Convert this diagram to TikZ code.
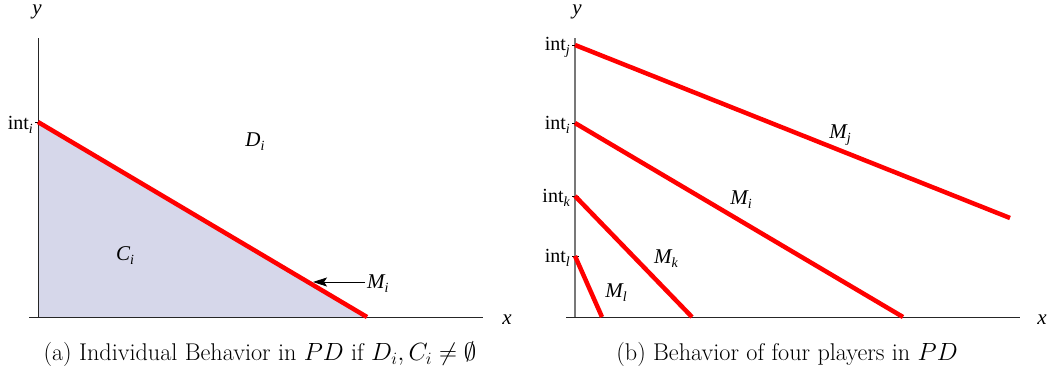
\documentclass[tikz,border=0pt]{standalone}
\usepackage{fontspec}
\usetikzlibrary{arrows.meta}
\newfontfamily\plotfont{Liberation Serif}
\definecolor{lav}{RGB}{214,215,234}
\definecolor{axgray}{RGB}{120,120,120}
\newcommand{\sbs}[1]{\raisebox{-4pt}{\fontsize{14}{16}\selectfont\itshape #1}}
\begin{document}
\begin{tikzpicture}[x=1pt,y=-1pt,
  redline/.style={draw=red,line width=4.5pt},
  lbl/.style={font=\plotfont\fontsize{21}{24}\selectfont,inner sep=0pt},
  intlbl/.style={font=\plotfont\fontsize{20}{24}\selectfont,inner sep=0pt,anchor=east},
  captext/.style={font=\fontsize{24.2}{29}\selectfont,inner sep=0pt}]
\useasboundingbox (0,0) rectangle (1056,373);
% ---------- left panel ----------
\coordinate (Li) at (38,122);
\coordinate (Lx) at (367,317);
\coordinate (Lo) at (38,317);
\fill[lav] (Li) -- (Lx) -- (Lo) -- cycle;
\draw[black!85,line width=0.9pt] (38,38) -- (38,318);
\draw[black!85,line width=0.9pt] (29,317) -- (483,317);
\draw[black,line width=0.8pt] (35,122) -- (41,122);
\draw[redline] (Li) -- (Lx);
\node[lbl] (ly) at (37,12) {\itshape y};
\node[lbl] (lx) at (507,320) {\itshape x};
\node[intlbl] (lint) at (33,125) {int\sbs{i}};
\node[lbl] (Dl) at (255,142) {\itshape D\sbs{i}};
\node[lbl] (Cl) at (125,256) {\itshape C\sbs{i}};
\coordinate (Mtip) at (313,282);
\coordinate (Mtail) at (365,282);
\node[lbl,anchor=west] (Ml) at (367,284) {\itshape M\sbs{i}};
\draw[-{Stealth[length=14pt,width=9pt,inset=3pt]},line width=0.8pt] (Mtail) -- (Mtip);
\node[captext] (capa) at (260,354) {(a) Individual Behavior in $PD$ if $D_i, C_i \neq \emptyset$};
% ---------- right panel ----------
\draw[axgray,line width=1.3pt] (575,38) -- (575,318);
\draw[black!85,line width=0.9pt] (566,317) -- (1020,317);
\foreach \yy in {45,123,196,256} \draw[black,line width=0.8pt] (572,\yy) -- (579,\yy);
\coordinate (Rj) at (575,45);
\coordinate (Ri) at (575,123);
\coordinate (Rk) at (575,196);
\coordinate (Rl) at (575,256);
\coordinate (Ej) at (1010,218);
\coordinate (Ei) at (903,317);
\coordinate (Ek) at (692,317);
\coordinate (El) at (602,317);
\draw[redline] (Rj) -- (Ej);
\draw[redline] (Ri) -- (Ei);
\draw[redline] (Rk) -- (Ek);
\draw[redline] (Rl) -- (El);
\node[lbl] (ry) at (577,12) {\itshape y};
\node[lbl] (rx) at (1042,320) {\itshape x};
\node[intlbl] (intj) at (570,47) {int\sbs{j}};
\node[intlbl] (inti) at (570,125) {int\sbs{i}};
\node[intlbl] (intk) at (570,198) {int\sbs{k}};
\node[intlbl] (intl) at (570,258) {int\sbs{l}};
\node[lbl] (Mj) at (840,135) {\itshape M\sbs{j}};
\node[lbl] (Mi) at (741,200) {\itshape M\sbs{i}};
\node[lbl] (Mk) at (666,259) {\itshape M\sbs{k}};
\node[lbl] (Mll) at (616,293) {\itshape M\sbs{l}};
\node[captext] (capb) at (787,354) {(b) Behavior of four players in $PD$};
\end{tikzpicture}
\end{document}
